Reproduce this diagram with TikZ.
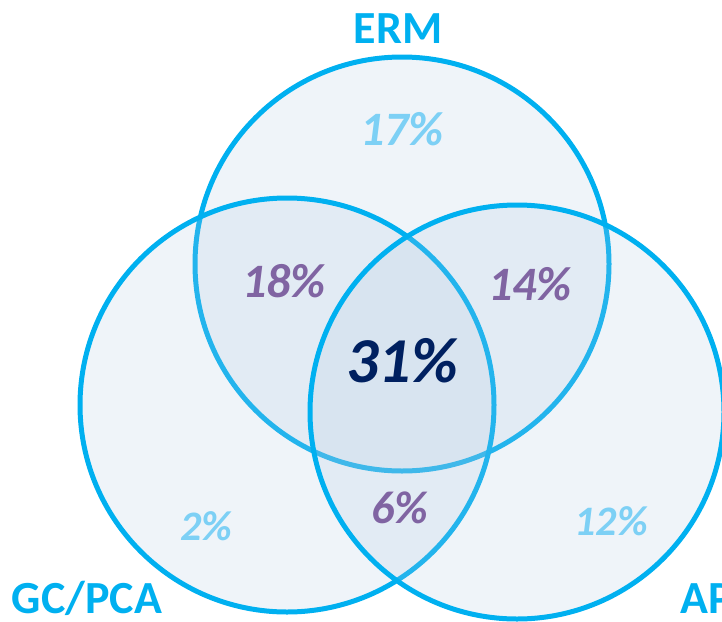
\documentclass[tikz,border=0pt]{standalone}
\usepackage{fontspec}
\setmainfont{Carlito}
\definecolor{ringblue}{HTML}{00B0F0}
\definecolor{ringfill}{RGB}{175,200,225}
\definecolor{lightpct}{HTML}{7DD0F5}
\definecolor{midpct}{HTML}{8064A2}
\definecolor{darkpct}{HTML}{002060}
\begin{document}
\begin{tikzpicture}[x=1pt, y=-1pt,
    ring/.style={draw=ringblue, line width=5pt, fill=ringfill, fill opacity=0.2},
    setname/.style={text=ringblue, anchor=base, font=\fontsize{46}{50}\selectfont\bfseries},
    pct/.style={anchor=base, font=\fontsize{#1}{#1}\selectfont\bfseries\itshape}]
    \useasboundingbox (0,0) rectangle (722,621);

    \def\ring#1#2{%
        \filldraw[ring] (#1,#2) circle[radius=207pt];
    }

    % ERM, then GC/PCA, then AP
    \ring{402}{264}
    \ring{287}{405}
    \ring{517}{412}

    % set names
    \node[setname] (erm) at (398,43) {ERM};
    \node[setname] (gcpca) at (87,613) {GC/PCA};
    \node[setname, anchor=base west] (ap) at (677,613) {AP};

    % one set only
    \node[pct=48, text=lightpct] (ermonly) at (402,145) {17\%};
    \node[pct=42, text=lightpct] (gconly) at (206,540) {2\%};
    \node[pct=42, text=lightpct] (aponly) at (611,535) {12\%};

    % two sets
    \node[pct=48, text=midpct] (ermgc) at (284,297) {18\%};
    \node[pct=48, text=midpct] (ermap) at (530,300) {14\%};
    \node[pct=46, text=midpct] (gcap) at (400,523) {6\%};

    % all three
    \node[pct=64, text=darkpct] (all) at (402,382) {31\%};
\end{tikzpicture}
\end{document}
